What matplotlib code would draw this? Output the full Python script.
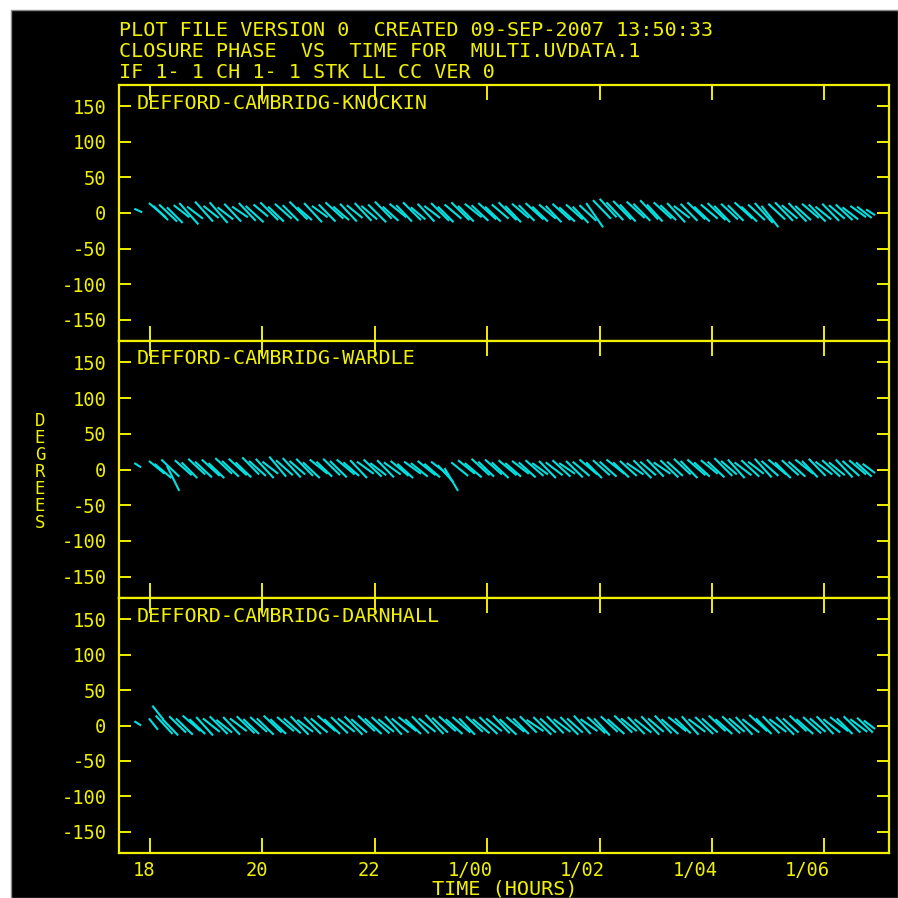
import matplotlib
matplotlib.use('Agg')
import matplotlib.pyplot as plt
from matplotlib.patches import Rectangle
from matplotlib.transforms import ScaledTranslation

# --- STYLE ---
YELLOW = '#f0f000'
CYAN = '#00e2e2'
FONT = 'DejaVu Sans Mono'
PX = 898.0

# --- TEXT ---
HEADER = [
    'PLOT FILE VERSION 0  CREATED 09-SEP-2007 13:50:33',
    'CLOSURE PHASE  VS  TIME FOR  MULTI.UVDATA.1',
    'IF 1- 1 CH 1- 1 STK LL CC VER 0',
]
PANEL_NAMES = [
    'DEFFORD-CAMBRIDG-KNOCKIN',
    'DEFFORD-CAMBRIDG-WARDLE',
    'DEFFORD-CAMBRIDG-DARNHALL',
]
Y_TICKS = [-150, -100, -50, 0, 50, 100, 150]
Y_TICK_LABELS = ['-150', '-100', '-50', '0', '50', '100', '150']
X_TICKS = [18, 20, 22, 24, 26, 28, 30]
X_TICK_LABELS = ['18', '20', '22', '1/00', '1/02', '1/04', '1/06']

# --- DATA: closure phase strokes (t_start, t_end, phase_start, phase_end), hours / degrees ---
KNOCKIN = [
    (17.72, 17.86, 6, 1), (17.98, 18.28, 14, -6), (18.06, 18.32, 10, -10),
    (18.16, 18.48, 12, -12), (18.30, 18.58, 8, -14), (18.42, 18.70, 11, -6),
    (18.52, 18.86, 14, -16), (18.66, 18.94, 9, -8), (18.80, 19.12, 16, -12),
    (18.95, 19.22, 10, -7), (19.06, 19.38, 15, -14), (19.20, 19.48, 8, -9),
    (19.32, 19.62, 13, -12), (19.46, 19.74, 9, -6), (19.58, 19.88, 14, -11),
    (19.70, 20.02, 10, -13), (19.84, 20.10, 12, -5), (19.96, 20.28, 15, -10),
    (20.10, 20.38, 9, -12), (20.22, 20.52, 13, -8), (20.36, 20.64, 11, -11),
    (20.48, 20.80, 16, -9), (20.62, 20.88, 8, -10), (20.74, 21.06, 14, -13),
    (20.88, 21.16, 10, -6), (21.00, 21.30, 12, -12), (21.12, 21.44, 15, -8),
    (21.26, 21.54, 9, -10), (21.38, 21.68, 13, -12), (21.50, 21.78, 11, -7),
    (21.64, 21.94, 14, -11), (21.76, 22.04, 10, -9), (21.88, 22.20, 12, -13),
    (22.00, 22.30, 16, -8), (22.14, 22.42, 9, -11), (22.26, 22.56, 13, -6),
    (22.38, 22.66, 11, -12), (22.50, 22.82, 15, -10), (22.64, 22.90, 8, -9),
    (22.76, 23.06, 13, -12), (22.88, 23.16, 10, -7), (23.00, 23.32, 14, -11),
    (23.12, 23.40, 9, -13), (23.24, 23.54, 12, -8), (23.36, 23.68, 15, -10),
    (23.48, 23.76, 10, -12), (23.60, 23.90, 13, -6), (23.72, 24.02, 11, -11),
    (23.84, 24.16, 14, -9), (23.96, 24.24, 9, -12), (24.08, 24.38, 12, -8),
    (24.20, 24.52, 15, -10), (24.32, 24.60, 10, -13), (24.44, 24.74, 13, -7),
    (24.56, 24.84, 11, -11), (24.68, 25.00, 14, -9), (24.80, 25.08, 9, -12),
    (24.92, 25.22, 12, -8), (25.04, 25.32, 10, -13), (25.16, 25.48, 13, -10),
    (25.28, 25.56, 8, -12), (25.40, 25.70, 12, -9), (25.52, 25.80, 9, -14),
    (25.64, 25.94, 11, -11), (25.76, 26.06, 14, -20), (25.88, 26.20, 18, -8),
    (26.00, 26.30, 20, -6), (26.12, 26.42, 15, -10), (26.24, 26.56, 17, -9),
    (26.36, 26.64, 12, -12), (26.48, 26.80, 16, -7), (26.60, 26.90, 13, -11),
    (26.72, 27.04, 18, -9), (26.84, 27.12, 12, -12), (26.96, 27.28, 15, -8),
    (27.08, 27.36, 11, -10), (27.20, 27.52, 14, -13), (27.32, 27.60, 10, -7),
    (27.44, 27.74, 13, -11), (27.56, 27.88, 15, -9), (27.68, 27.96, 9, -12),
    (27.80, 28.10, 12, -8), (27.92, 28.24, 14, -10), (28.04, 28.32, 10, -13),
    (28.16, 28.46, 13, -9), (28.28, 28.56, 11, -11), (28.40, 28.72, 15, -8),
    (28.52, 28.80, 9, -12), (28.64, 28.94, 12, -10), (28.76, 29.08, 14, -14),
    (28.88, 29.18, 10, -20), (29.00, 29.30, 13, -9), (29.12, 29.44, 15, -11),
    (29.24, 29.52, 11, -8), (29.36, 29.68, 14, -12), (29.48, 29.76, 10, -10),
    (29.60, 29.90, 13, -7), (29.72, 30.02, 12, -12), (29.84, 30.12, 9, -9),
    (29.96, 30.26, 13, -11), (30.08, 30.36, 11, -8), (30.20, 30.50, 12, -10),
    (30.32, 30.60, 8, -9), (30.46, 30.74, 10, -6), (30.58, 30.84, 9, -7),
    (30.74, 30.90, 5, -3),
]

WARDLE = [
    (17.72, 17.84, 9, 3), (17.98, 18.26, 12, -6), (18.08, 18.38, 8, -12),
    (18.20, 18.52, 14, -10), (18.30, 18.52, 5, -30), (18.44, 18.74, 13, -8),
    (18.56, 18.84, 10, -12), (18.68, 18.98, 15, -7), (18.80, 19.10, 11, -11),
    (18.92, 19.24, 14, -9), (19.04, 19.32, 9, -12), (19.16, 19.46, 16, -6),
    (19.28, 19.58, 12, -10), (19.40, 19.72, 15, -8), (19.52, 19.80, 10, -11),
    (19.64, 19.94, 17, -7), (19.76, 20.06, 12, -9), (19.88, 20.20, 15, -12),
    (20.00, 20.28, 11, -6), (20.12, 20.42, 18, -10), (20.24, 20.54, 13, -8),
    (20.36, 20.68, 16, -11), (20.48, 20.76, 12, -7), (20.60, 20.90, 15, -9),
    (20.72, 21.02, 10, -12), (20.84, 21.16, 14, -6), (20.96, 21.24, 11, -10),
    (21.08, 21.38, 15, -8), (21.20, 21.50, 12, -11), (21.32, 21.64, 14, -7),
    (21.44, 21.72, 10, -9), (21.56, 21.86, 13, -12), (21.68, 21.98, 11, -6),
    (21.80, 22.12, 14, -10), (21.92, 22.20, 9, -8), (22.04, 22.34, 13, -11),
    (22.16, 22.46, 10, -7), (22.28, 22.60, 12, -9), (22.40, 22.68, 8, -12),
    (22.52, 22.82, 11, -6), (22.64, 22.94, 9, -10), (22.76, 23.08, 12, -8),
    (22.88, 23.16, 8, -11), (23.00, 23.30, 11, -7), (23.12, 23.40, 6, -18),
    (23.24, 23.48, 2, -30), (23.36, 23.66, 10, -9), (23.48, 23.78, 13, -6),
    (23.60, 23.90, 9, -11), (23.72, 24.04, 15, -8), (23.84, 24.12, 11, -10),
    (23.96, 24.26, 14, -7), (24.08, 24.38, 10, -12), (24.20, 24.52, 13, -8),
    (24.32, 24.60, 9, -10), (24.44, 24.74, 12, -6), (24.56, 24.86, 10, -11),
    (24.68, 25.00, 13, -9), (24.80, 25.08, 9, -7), (24.92, 25.22, 12, -12),
    (25.04, 25.34, 10, -8), (25.16, 25.48, 13, -10), (25.28, 25.56, 9, -6),
    (25.40, 25.70, 12, -11), (25.52, 25.82, 11, -9), (25.64, 25.96, 14, -7),
    (25.76, 26.04, 10, -12), (25.88, 26.18, 13, -8), (26.00, 26.30, 11, -10),
    (26.12, 26.44, 14, -6), (26.24, 26.52, 10, -11), (26.36, 26.66, 12, -9),
    (26.48, 26.78, 9, -7), (26.60, 26.92, 13, -12), (26.72, 27.00, 11, -8),
    (26.84, 27.14, 14, -10), (26.96, 27.26, 10, -6), (27.08, 27.40, 13, -11),
    (27.20, 27.48, 11, -9), (27.32, 27.62, 15, -7), (27.44, 27.74, 12, -12),
    (27.56, 27.88, 14, -8), (27.68, 27.96, 10, -10), (27.80, 28.10, 13, -6),
    (27.92, 28.22, 11, -11), (28.04, 28.36, 16, -9), (28.16, 28.44, 12, -7),
    (28.28, 28.58, 14, -12), (28.40, 28.70, 10, -8), (28.52, 28.84, 13, -10),
    (28.64, 28.92, 11, -6), (28.76, 29.06, 15, -11), (28.88, 29.18, 12, -9),
    (29.00, 29.32, 14, -7), (29.12, 29.40, 10, -12), (29.24, 29.54, 13, -8),
    (29.36, 29.66, 11, -10), (29.48, 29.80, 14, -6), (29.60, 29.88, 12, -11),
    (29.72, 30.02, 15, -9), (29.84, 30.14, 11, -7), (29.96, 30.28, 13, -10),
    (30.08, 30.36, 10, -8), (30.20, 30.50, 14, -11), (30.32, 30.62, 12, -9),
    (30.44, 30.74, 13, -7), (30.56, 30.84, 10, -10), (30.68, 30.90, 8, -5),
]

DARNHALL = [
    (17.72, 17.84, 6, 0), (17.98, 18.14, 10, -6), (18.04, 18.24, 28, 8),
    (18.10, 18.40, 14, -12), (18.22, 18.50, 9, -14), (18.34, 18.64, 13, -10),
    (18.46, 18.76, 10, -13), (18.58, 18.90, 14, -8), (18.70, 18.98, 9, -12),
    (18.82, 19.12, 12, -14), (18.94, 19.24, 10, -9), (19.06, 19.38, 13, -12),
    (19.18, 19.46, 8, -10), (19.30, 19.60, 12, -13), (19.42, 19.72, 10, -8),
    (19.54, 19.86, 13, -11), (19.66, 19.94, 9, -12), (19.78, 20.08, 12, -9),
    (19.90, 20.20, 10, -13), (20.02, 20.34, 14, -10), (20.14, 20.42, 9, -12),
    (20.26, 20.56, 12, -8), (20.38, 20.68, 10, -11), (20.50, 20.82, 13, -13),
    (20.62, 20.90, 8, -9), (20.74, 21.04, 12, -12), (20.86, 21.16, 10, -10),
    (20.98, 21.30, 14, -8), (21.10, 21.38, 9, -12), (21.22, 21.52, 12, -11),
    (21.34, 21.64, 10, -9), (21.46, 21.78, 13, -13), (21.58, 21.86, 9, -10),
    (21.70, 22.00, 14, -8), (21.82, 22.12, 10, -12), (21.94, 22.26, 12, -11),
    (22.06, 22.34, 9, -9), (22.18, 22.48, 13, -13), (22.30, 22.60, 10, -10),
    (22.42, 22.74, 12, -8), (22.54, 22.82, 9, -12), (22.66, 22.96, 13, -11),
    (22.78, 23.08, 10, -9), (22.90, 23.22, 15, -12), (23.02, 23.30, 11, -10),
    (23.14, 23.44, 13, -8), (23.26, 23.56, 9, -12), (23.38, 23.70, 12, -10),
    (23.50, 23.78, 10, -13), (23.62, 23.92, 13, -9), (23.74, 24.04, 9, -11),
    (23.86, 24.18, 12, -12), (23.98, 24.26, 10, -8), (24.10, 24.40, 14, -11),
    (24.22, 24.52, 9, -13), (24.34, 24.66, 12, -9), (24.46, 24.74, 10, -12),
    (24.58, 24.88, 13, -10), (24.70, 25.00, 8, -8), (24.82, 25.14, 12, -13),
    (24.94, 25.22, 10, -10), (25.06, 25.36, 13, -11), (25.18, 25.48, 9, -9),
    (25.30, 25.62, 12, -13), (25.42, 25.70, 10, -10), (25.54, 25.84, 14, -12),
    (25.66, 25.96, 9, -8), (25.78, 26.10, 12, -11), (25.90, 26.18, 10, -14),
    (26.02, 26.32, 13, -9), (26.14, 26.44, 9, -12), (26.26, 26.58, 14, -10),
    (26.38, 26.66, 10, -8), (26.50, 26.80, 12, -12), (26.62, 26.92, 9, -10),
    (26.74, 27.06, 13, -13), (26.86, 27.14, 10, -9), (26.98, 27.28, 14, -11),
    (27.10, 27.40, 9, -12), (27.22, 27.54, 12, -8), (27.34, 27.62, 10, -11),
    (27.46, 27.76, 13, -13), (27.58, 27.88, 9, -9), (27.70, 28.02, 12, -12),
    (27.82, 28.10, 10, -10), (27.94, 28.24, 14, -8), (28.06, 28.36, 9, -12),
    (28.18, 28.50, 13, -11), (28.30, 28.58, 10, -9), (28.42, 28.72, 12, -13),
    (28.54, 28.84, 9, -10), (28.66, 28.98, 15, -8), (28.78, 29.06, 10, -12),
    (28.90, 29.20, 13, -11), (29.02, 29.32, 9, -9), (29.14, 29.46, 12, -13),
    (29.26, 29.54, 10, -10), (29.38, 29.68, 14, -8), (29.50, 29.80, 9, -12),
    (29.62, 29.94, 12, -11), (29.74, 30.02, 10, -9), (29.86, 30.16, 13, -12),
    (29.98, 30.28, 9, -10), (30.10, 30.42, 12, -8), (30.22, 30.50, 10, -12),
    (30.34, 30.64, 13, -10), (30.46, 30.76, 9, -9), (30.58, 30.86, 11, -10),
    (30.70, 30.90, 7, -5),
]
PANELS = [KNOCKIN, WARDLE, DARNHALL]

# --- LAYOUT (pixel edges of the reference frame) ---
LEFT, RIGHT = 119, 889
EDGES = [85, 341, 598, 853]
XLIM = (17.447, 31.148)
YLIM = (-180, 180)

plt.rcParams['font.family'] = [FONT, 'DejaVu Sans']
fig = plt.figure(figsize=(8.98, 8.98), dpi=100, facecolor='white')

# black "screen" with white border on top / left
fig.add_artist(Rectangle((11 / PX, 0), 1 - 11 / PX, 1 - 10 / PX,
                         transform=fig.transFigure, facecolor='black',
                         edgecolor='#8a8a8a', linewidth=1.0, zorder=0))

for i, line in enumerate(HEADER):
    fig.text(LEFT / PX, 1 - (31 + 20.5 * i) / PX, line, color=YELLOW,
             fontsize=14.5, ha='left', va='center')

for i, (name, strokes) in enumerate(zip(PANEL_NAMES, PANELS)):
    top, bot = EDGES[i], EDGES[i + 1]
    ax = fig.add_axes([LEFT / PX, 1 - bot / PX, (RIGHT - LEFT) / PX, (bot - top) / PX])
    ax.set_facecolor('black')

    for t0, t1, p0, p1 in strokes:
        ax.plot([t0, t1], [p0, p1], color=CYAN, linewidth=1.5, solid_capstyle='butt')

    ax.set_xlim(*XLIM)
    ax.set_ylim(*YLIM)
    for sp in ax.spines.values():
        sp.set_color(YELLOW)
        sp.set_linewidth(1.6)

    ax.set_yticks(Y_TICKS)
    ax.set_yticklabels(Y_TICK_LABELS)
    ax.set_xticks(X_TICKS)
    ax.tick_params(axis='y', direction='in', length=8.5, width=1.4, color=YELLOW,
                   labelcolor=YELLOW, labelsize=13.5, pad=9, left=True, right=True)
    ax.tick_params(axis='x', direction='in', length=11, width=1.4, color=YELLOW,
                   labelcolor=YELLOW, labelsize=13.5, pad=6, top=True, bottom=True)
    if i < 2:
        ax.set_xticklabels([])
    else:
        ax.set_xticklabels(X_TICK_LABELS, ha='right')
        shift = ScaledTranslation(4 / 72, 0, fig.dpi_scale_trans)
        for lbl in ax.get_xticklabels():
            lbl.set_transform(lbl.get_transform() + shift)

    ax.text((137 - LEFT) / (RIGHT - LEFT), 1 - 18 / (bot - top), name,
            transform=ax.transAxes, color=YELLOW, fontsize=14.5,
            ha='left', va='center')

fig.text(505 / PX, 1 - 889 / PX, 'TIME (HOURS)', color=YELLOW, fontsize=14.5,
         ha='center', va='center')
fig.text(40 / PX, 1 - 472 / PX, 'D\nE\nG\nR\nE\nE\nS', color=YELLOW, fontsize=12.5,
         ha='center', va='center', linespacing=0.92)

fig.savefig('out.png', dpi=100, facecolor=fig.get_facecolor())
